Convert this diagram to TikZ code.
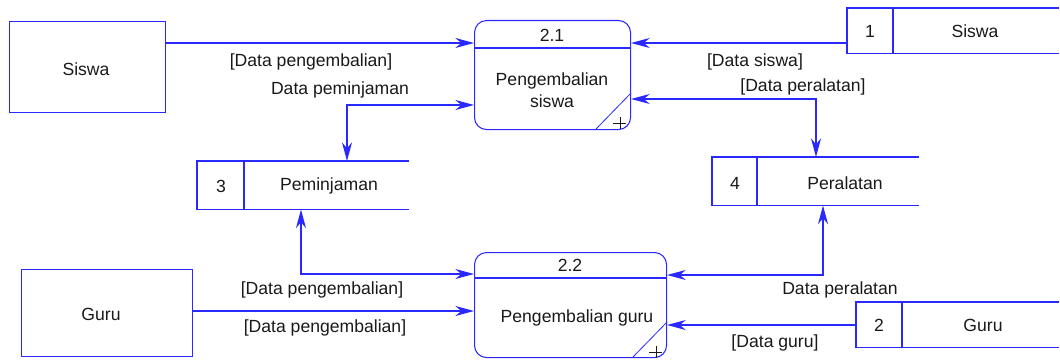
\documentclass[tikz,border=0pt]{standalone}
\usepackage{fontspec}
\setmainfont{Liberation Sans}
\usetikzlibrary{arrows.meta,calc}
\definecolor{ln}{RGB}{40,40,255}
\definecolor{tx}{RGB}{25,25,25}
\tikzset{
  every node/.style={text=tx,font=\fontsize{13.2}{16.5}\selectfont},
  box/.style={draw=ln,line width=0.8pt,inner sep=0pt,anchor=north west},
  proc/.style={box,rounded corners=9pt},
  store/.style={inner sep=0pt,anchor=north west},
  ln/.style={draw=ln,line width=0.8pt},
  arr/.style={ln,-{Stealth[length=14pt,width=7.5pt,inset=4.5pt]}},
  arr2/.style={ln,{Stealth[length=14pt,width=7.5pt,inset=4.5pt]}-{Stealth[length=14pt,width=7.5pt,inset=4.5pt]}},
  lbl/.style={inner sep=1pt},
}
\begin{document}
\begin{tikzpicture}[x=0.75pt,y=-0.75pt]
\useasboundingbox (0,0) rectangle (1060,360);
% external entities
\node[box,minimum width=156*0.75pt,minimum height=91*0.75pt] (siswaE) at (9,21) {};
\node (siswaT) at (86,69) {Siswa};
\node[box,minimum width=171*0.75pt,minimum height=87*0.75pt] (guruE) at (21,269) {};
\node (guruT) at (101,314) {Guru};
% processes
\node[proc,minimum width=156*0.75pt,minimum height=109*0.75pt] (p21) at (474,20) {};
\draw[ln] (p21.west |- 0,48) -- (p21.east |- 0,48);
\node (p21n) at (552,35) {2.1};
\node[align=center] (p21t) at (552,90) {Pengembalian\\siswa};
\draw[ln,line width=0.6pt] (596,129) -- (p21.east |- 0,93);
\draw[tx,line width=0.6pt] (613,123) -- (626,123) (620,117) -- (620,129);
\node[proc,minimum width=192*0.75pt,minimum height=105*0.75pt] (p22) at (474,252) {};
\draw[ln] (p22.west |- 0,278) -- (p22.east |- 0,278);
\node (p22n) at (570,265) {2.2};
\node (p22t) at (577,318) {Pengembalian guru};
\draw[ln,line width=0.6pt] (633,357) -- (p22.east |- 0,322);
\draw[tx,line width=0.6pt] (649,352) -- (662,352) (656,346) -- (656,358);
% data stores
\node[store,minimum width=211*0.75pt,minimum height=45*0.75pt] (s1) at (847,8) {};
\draw[ln] (s1.north east) -- (s1.north west) -- (s1.south west) -- (s1.south east);
\draw[ln] (s1.north west -| 893,0) -- (s1.south west -| 893,0);
\node (s1n) at (870,31) {1};
\node (s1t) at (975,31) {Siswa};
\node[store,minimum width=202*0.75pt,minimum height=45*0.75pt] (s2) at (856,302) {};
\draw[ln] (s2.north east) -- (s2.north west) -- (s2.south west) -- (s2.south east);
\draw[ln] (s2.north west -| 902,0) -- (s2.south west -| 902,0);
\node (s2n) at (879,325) {2};
\node (s2t) at (983,325) {Guru};
\node[store,minimum width=211*0.75pt,minimum height=48*0.75pt] (s3) at (197,161) {};
\draw[ln] (s3.north east) -- (s3.north west) -- (s3.south west) -- (s3.south east);
\draw[ln] (s3.north west -| 244,0) -- (s3.south west -| 244,0);
\node (s3n) at (221,186) {3};
\node (s3t) at (329,186) {Peminjaman};
\node[store,minimum width=206*0.75pt,minimum height=48*0.75pt] (s4) at (712,157) {};
\draw[ln] (s4.north east) -- (s4.north west) -- (s4.south west) -- (s4.south east);
\draw[ln] (s4.north west -| 757,0) -- (s4.south west -| 757,0);
\node (s4n) at (735,183) {4};
\node (s4t) at (845,183) {Peralatan};
% connectors
\draw[arr] (siswaE.east |- 0,43) -- (p21.west |- 0,43);
\node[lbl] (l1) at (311,62) {[Data pengembalian]};
\draw[arr] (s1.west |- 0,43) -- (p21.east |- 0,43);
\node[lbl] (l2) at (755,62) {[Data siswa]};
\draw[arr2] (s3.north -| 347,0) -- (347,105) -- (p21.west |- 0,105);
\node[lbl] (l3) at (340,90) {Data peminjaman};
\draw[arr2] (p21.east |- 0,99) -- (816,99) -- (s4.north -| 816,0);
\node[lbl] (l4) at (803,87) {[Data peralatan]};
\draw[arr2] (s3.south -| 301,0) -- (301,274) -- (p22.west |- 0,274);
\node[lbl] (l5) at (322,290) {[Data pengembalian]};
\draw[arr] (guruE.east |- 0,311) -- (p22.west |- 0,311);
\node[lbl] (l6) at (325,328) {[Data pengembalian]};
\draw[arr2] (p22.east |- 0,275) -- (823,275) -- (s4.south -| 823,0);
\node[lbl] (l7) at (840,290) {Data peralatan};
\draw[arr] (s2.west |- 0,325) -- (p22.east |- 0,325);
\node[lbl] (l8) at (775,343) {[Data guru]};
\end{tikzpicture}
\end{document}
